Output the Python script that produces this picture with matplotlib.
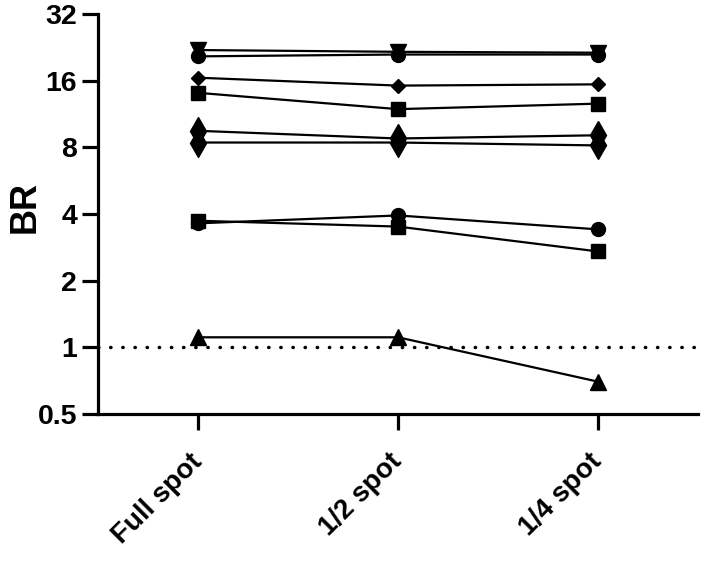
import matplotlib
matplotlib.use("Agg")
import matplotlib.pyplot as plt
import matplotlib.transforms as mtransforms
from matplotlib.ticker import FixedLocator, FixedFormatter, NullLocator

categories = ["Full spot", "1/2 spot", "1/4 spot"]

s_downtri = [22.0, 21.6, 21.4]
s_circle_hi = [20.6, 21.0, 21.0]
s_diamond = [16.5, 15.2, 15.4]
s_square_hi = [14.1, 11.9, 12.6]
s_thin_a = [9.5, 8.77, 9.07]
s_thin_b = [8.41, 8.41, 8.16]
s_square_mid = [3.73, 3.51, 2.71]
s_circle_mid = [3.63, 3.94, 3.41]
s_triangle = [1.11, 1.11, 0.70]

yticks = [0.5, 1, 2, 4, 8, 16, 32]
ytick_labels = ["0.5", "1", "2", "4", "8", "16", "32"]

plt.rcParams['font.family'] = ['Liberation Sans', 'DejaVu Sans']

fig = plt.figure(figsize=(7.01, 5.63), dpi=100)
ax = fig.add_axes([98/701, 1-414/563, 600/701, 400/563])

x = list(range(len(categories)))

ax.axhline(1, color='black', lw=2.5, linestyle=(0, (0.1, 3.4)),
           dash_capstyle='round', zorder=1)

series = [
    (s_downtri, 'v', 11),
    (s_circle_hi, 'o', 10),
    (s_diamond, 'D', 7.5),
    (s_square_hi, 's', 10),
    (s_thin_a, 'd', 14),
    (s_thin_b, 'd', 14),
    (s_square_mid, 's', 10),
    (s_circle_mid, 'o', 10),
    (s_triangle, '^', 11),
]
for vals, mk, ms in series:
    ax.plot(x, vals, color='black', lw=1.6, marker=mk, markersize=ms,
            markerfacecolor='black', markeredgecolor='black', zorder=3,
            clip_on=False)

ax.set_yscale('log', base=2)
ax.set_ylim(0.5, 32)
ax.set_xlim(-0.5, 2.5)
ax.yaxis.set_major_locator(FixedLocator(yticks))
ax.yaxis.set_major_formatter(FixedFormatter(ytick_labels))
ax.yaxis.set_minor_locator(NullLocator())

ax.set_xticks(x)
ax.set_xticklabels(categories, rotation=45, ha='right', va='center',
                   rotation_mode='anchor', fontsize=20, fontweight='bold')
offset = mtransforms.ScaledTranslation(-12/100, 0, fig.dpi_scale_trans)
for lab in ax.get_xticklabels():
    lab.set_transform(lab.get_transform() + offset)
for lab in ax.get_yticklabels():
    lab.set_fontsize(20.5)
    lab.set_fontweight('bold')

ax.spines['top'].set_visible(False)
ax.spines['right'].set_visible(False)
for sp in ['left', 'bottom']:
    ax.spines[sp].set_linewidth(2.3)
ax.tick_params(axis='both', which='major', length=11.5, width=2.3,
               direction='out', color='black')
ax.tick_params(axis='y', pad=3.5)
ax.tick_params(axis='x', pad=20)

ax.set_ylabel("BR", fontsize=26, fontweight='bold')
ax.yaxis.set_label_coords(-0.093, 0.5175)

fig.savefig("out.png", dpi=100)
